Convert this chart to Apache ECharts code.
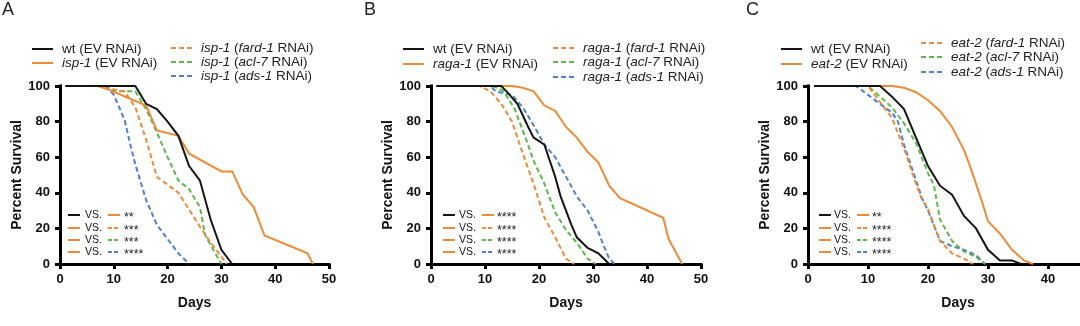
<!DOCTYPE html>
<html>
<head>
<meta charset="utf-8">
<script src="https://cdn.jsdelivr.net/npm/echarts@6/dist/echarts.min.js"></script>
<style>
  html, body { margin: 0; padding: 0; background: #fff; }
  #c { width: 1080px; height: 326px; }
</style>
</head>
<body>
<div id="c"></div>
<script>
// ---- Survival data: [day, percent alive] ----
const panelLetters = ['A', 'B', 'C'];
const strains = ['isp-1', 'raga-1', 'eat-2'];
const rnaiGenes = ['fard-1', 'acl-7', 'ads-1'];
const significance = [
  ['**', '***', '***', '****'],
  ['****', '****', '****', '****'],
  ['**', '****', '****', '****']
];

// Panel A: isp-1
const wtA   = [[1,100],[14,100],[16,90],[18,87],[20,80],[22,72],[24,55],[26,47],[28,25],[30,8],[32,0]];
const mutA  = [[1,100],[7,100],[9,98],[16,89],[18,75],[22,72],[24,62],[30,52],[32,52],[34,39],[36,32],[38,16],[46,6],[47,0]];
const fardA = [[1,100],[9,100],[10,98],[12,97],[14,88],[16,70],[18,49],[22,40],[26,21],[28,12],[30,4],[31,0]];
const aclA  = [[1,100],[9,100],[10,97],[14,97],[16,87],[18,74],[20,60],[22,47],[24,42],[26,32],[27,16],[30,0]];
const adsA  = [[1,100],[8.5,100],[10,95],[12,81],[13,68],[14,56],[16,36],[18,22],[20,14],[22,6],[24,0]];

// Panel B: raga-1
const wtB   = [[1,100],[13,100],[14,97],[16,90],[18,77],[19,71],[21,67],[22,58],[23,49],[24,38],[25,30],[26,22],[27,15],[29,9],[31,6],[33,0]];
const mutB  = [[1,100],[15,100],[17,99],[19,97],[20,93],[21,89],[23,86],[25,77],[27,71],[29,63],[31,57],[33,44],[35,37],[43,26],[44,14],[46.5,0]];
const fardB = [[1,100],[9,100],[11,97],[13,90],[15,80],[17,62],[19,45],[21,26],[23,15],[25,3],[26.5,0]];
const aclB  = [[1,100],[11.5,100],[13.5,97],[15.5,87],[17.5,71],[19,58],[21,45],[23,29],[25,19],[27,12],[29,3],[30.5,0]];
const adsB  = [[1,100],[11,100],[12,97],[15,95],[17,88],[19,78],[21,67],[23,60],[25,49],[27,38],[29,30],[31,18],[32,10],[33,3],[34,0]];

// Panel C: eat-2
const wtC   = [[1,100],[12,100],[14,94],[16,87],[18,71],[20,55],[22,44],[24,39],[26,27],[28,20],[30,8],[32,2],[34,2],[35.5,0]];
const mutC  = [[1,100],[14,100],[16,99],[18,96.5],[20,92],[22,86],[24,77],[26,64],[27,55],[28,45],[29,35],[30,24],[32,17],[34,8],[36,2],[37.5,0]];
const fardC = [[1,100],[10,100],[12,91],[14,82],[16,65],[18,45],[19,36],[20,31],[22,13],[24,6],[26,3],[27.5,0]];
const aclC  = [[1,100],[10,100],[12,94],[14,88],[16,79],[18,68],[20,51],[21,44],[22,25],[24,13],[26,7],[28,4],[29.5,0]];
const adsC  = [[1,100],[8,100],[10,95],[12,90],[14,85],[15,80],[16,67],[18,47],[19,37],[20,30],[22,13],[24,10],[26,8],[28,5],[29.5,0]];

const panelData = [
  [wtA, mutA, fardA, aclA, adsA],
  [wtB, mutB, fardB, aclB, adsB],
  [wtC, mutC, fardC, aclC, adsC]
];

// ---- Styling ----
const FONT = '"Liberation Sans", Arial, Helvetica, sans-serif';
const BLACK = '#141414';
const ORANGE = '#EE8B3B';
const GREEN = '#5DB84B';
const BLUE = '#4E82CA';
const seriesColors = [BLACK, ORANGE, ORANGE, GREEN, BLUE];
const seriesDashed = [false, false, true, true, true];
const DASH = [5, 3];

// Plot rectangles (px) for the three panels; the third runs past the right edge
const grids = [
  { left: 60,  top: 86, width: 269, height: 178, outerBoundsMode: 'none', containLabel: false },
  { left: 431, top: 86, width: 270, height: 178, outerBoundsMode: 'none', containLabel: false },
  { left: 808, top: 86, width: 300, height: 178, outerBoundsMode: 'none', containLabel: false }
];

// Legend placement per panel
const topLegendPos = [
  { c1x: 32,  c1y: [49, 63], c2x: 171, c2y: [48, 62, 76] },
  { c1x: 403, c1y: [49, 64], c2x: 553, c2y: [48, 62, 77] },
  { c1x: 781, c1y: [49, 64], c2x: 921, c2y: [43, 57, 72] }
];
const vsLegendPos = [
  { s1: 68,  vs: 85,  s2: 108, st: 124 },
  { s1: 443, vs: 459, s2: 482, st: 497 },
  { s1: 819, vs: 834, s2: 857, st: 872 }
];
const vsRowsY = [215, 228, 240, 252];
const letterPos = [[2, 10], [364, 10], [746, 10]];

function axisCommon() {
  return {
    type: 'value',
    splitLine: { show: false },
    axisLine: { show: true, lineStyle: { color: '#000', width: 3, cap: 'square' } },
    axisTick: { show: true, length: 5, lineStyle: { color: '#000', width: 3 } },
    axisLabel: { color: '#111', fontSize: 13, fontWeight: 'bold', fontFamily: FONT },
    nameTextStyle: { color: '#111', fontSize: 14, fontWeight: 'bold', fontFamily: FONT }
  };
}

const xAxes = [], yAxes = [], series = [], graphics = [];

const richStyles = {
  i: { fontStyle: 'italic', fontSize: 13.5, fontFamily: FONT, fill: '#222', color: '#222' },
  n: { fontStyle: 'normal', fontSize: 13.5, fontFamily: FONT, fill: '#222', color: '#222' }
};

function addText(x, y, text, extra) {
  graphics.push({
    type: 'text',
    silent: true,
    style: Object.assign({
      x: x, y: y, text: text,
      fontSize: 13.5, fontFamily: FONT, fill: '#222',
      align: 'left', verticalAlign: 'middle',
      textAlign: 'left', textVerticalAlign: 'middle'
    }, extra || {})
  });
}
function addSample(x1, x2, y, color, dash, width) {
  graphics.push({
    type: 'line',
    silent: true,
    shape: { x1: x1, y1: y, x2: x2, y2: y },
    style: { stroke: color, lineWidth: width || 2, lineDash: dash || null }
  });
}

panelData.forEach((curves, p) => {
  const x = axisCommon();
  Object.assign(x, {
    gridIndex: p, min: 0, max: 50, interval: 10,
    name: 'Days', nameLocation: 'middle', nameGap: 32
  });
  x.axisLabel.margin = 9;
  xAxes.push(x);

  const y = axisCommon();
  Object.assign(y, {
    gridIndex: p, min: 0, max: 100, interval: 20,
    name: 'Percent Survival', nameLocation: 'middle', nameGap: 36
  });
  y.axisLabel.margin = 10;
  yAxes.push(y);

  const strain = strains[p];
  const names = [
    'wt (EV RNAi)',
    strain + ' (EV RNAi)',
    strain + ' (' + rnaiGenes[0] + ' RNAi)',
    strain + ' (' + rnaiGenes[1] + ' RNAi)',
    strain + ' (' + rnaiGenes[2] + ' RNAi)'
  ];
  curves.forEach((data, k) => {
    series.push({
      type: 'line',
      name: names[k] + ' #' + panelLetters[p],
      xAxisIndex: p, yAxisIndex: p,
      data: data,
      symbol: 'none',
      z: k === 0 ? 5 : 3 + (5 - k) * 0.1,
      lineStyle: {
        color: seriesColors[k], width: 2,
        type: seriesDashed[k] ? DASH : 'solid', cap: 'butt', join: 'miter'
      },
      silent: true
    });
  });

  // Panel letter
  addText(letterPos[p][0], letterPos[p][1], panelLetters[p], { fontSize: 18, fill: '#222' });

  // Legend above the plot
  const L = topLegendPos[p];
  const legendTexts = [
    '{n|wt (EV RNAi)}',
    '{i|' + strain + '}{n| (EV RNAi)}',
    '{i|' + strain + '}{n| (}{i|' + rnaiGenes[0] + '}{n| RNAi)}',
    '{i|' + strain + '}{n| (}{i|' + rnaiGenes[1] + '}{n| RNAi)}',
    '{i|' + strain + '}{n| (}{i|' + rnaiGenes[2] + '}{n| RNAi)}'
  ];
  for (let k = 0; k < 5; k++) {
    const col1 = k < 2;
    const sx = col1 ? L.c1x : L.c2x;
    const sy = col1 ? L.c1y[k] : L.c2y[k - 2];
    addSample(sx, sx + 21, sy, seriesColors[k], seriesDashed[k] ? DASH : null, 2);
    addText(sx + 30, sy, legendTexts[k], { rich: richStyles });
  }

  // Comparison key inside the plot
  const V = vsLegendPos[p];
  const pairs = [[0, 1], [1, 2], [1, 3], [1, 4]];
  pairs.forEach((pr, r) => {
    const yy = vsRowsY[r];
    addSample(V.s1, V.s1 + 12, yy, seriesColors[pr[0]], seriesDashed[pr[0]] ? [4, 2] : null, 2);
    addText(V.vs, yy, 'VS.', { fontSize: 10.5, fill: '#111' });
    addSample(V.s2, V.s2 + 12, yy, seriesColors[pr[1]], seriesDashed[pr[1]] ? [4, 2] : null, 2);
    addText(V.st, yy + 3, significance[p][r], { fontSize: 12.5, fill: '#222' });
  });
});

const chart = echarts.init(document.getElementById('c'), null, { renderer: 'canvas' });
chart.setOption({
  animation: false,
  backgroundColor: '#fff',
  grid: grids,
  xAxis: xAxes,
  yAxis: yAxes,
  series: series,
  graphic: { elements: graphics }
});
</script>
</body>
</html>
